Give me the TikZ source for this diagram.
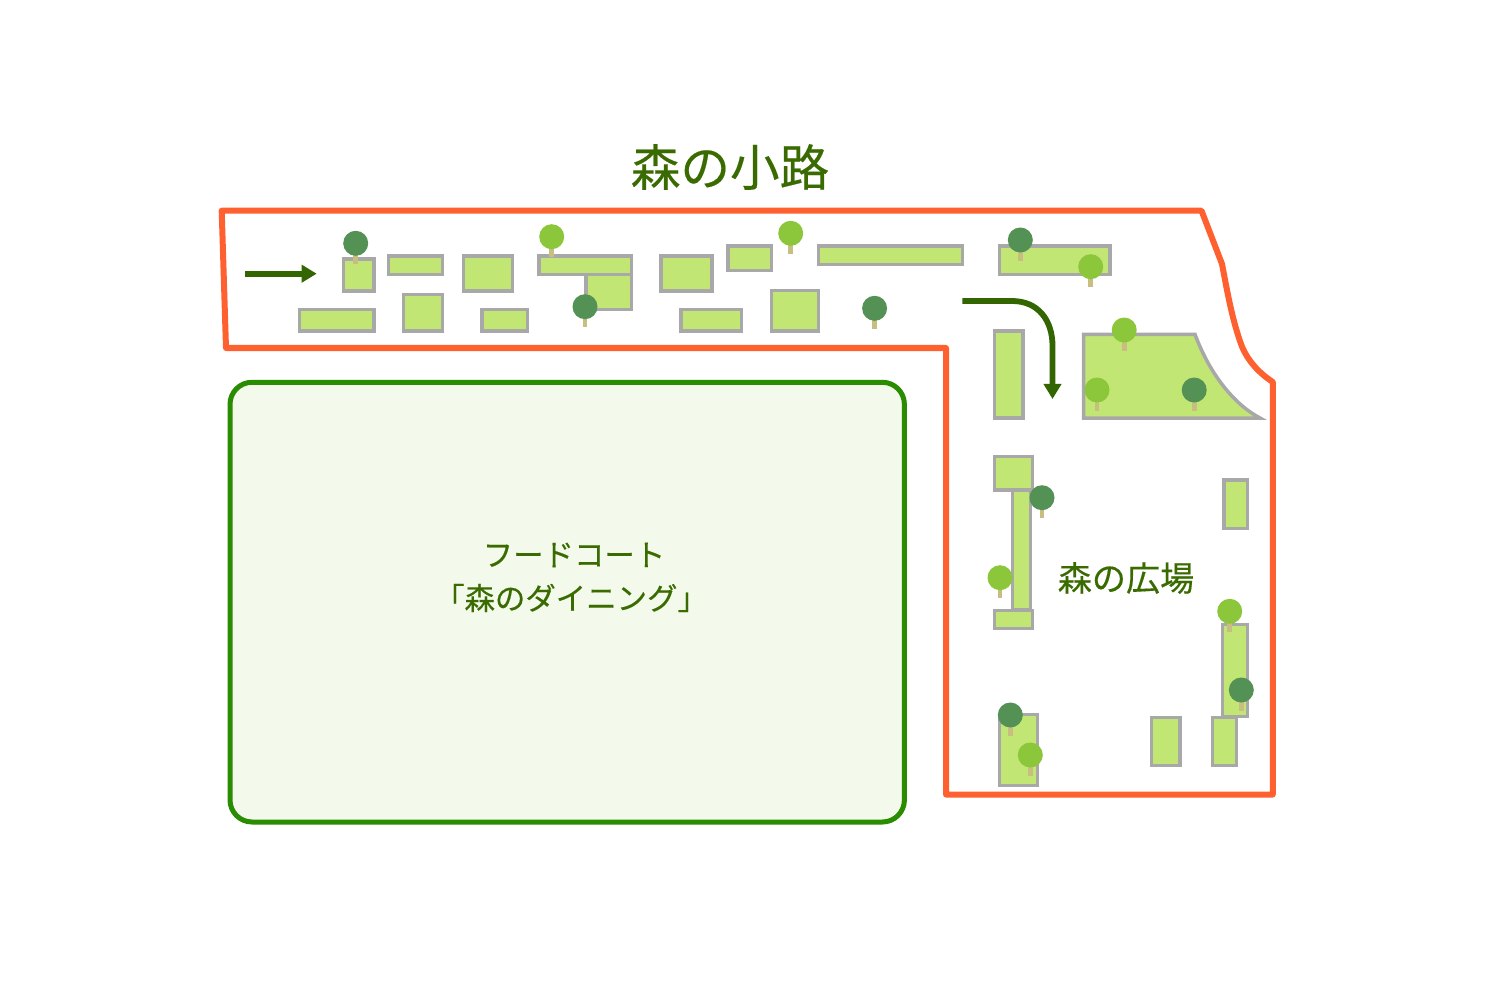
\documentclass[tikz,border=0pt]{standalone}
\usepackage{fontspec}
\setmainfont[RawFeature={embolden=0.35}]{Noto Sans CJK JP}
\usetikzlibrary{arrows.meta}
\definecolor{zoneline}{HTML}{FF6030}
\definecolor{courtline}{HTML}{2A8C00}
\definecolor{courtfill}{HTML}{F4FAEB}
\definecolor{bedfill}{HTML}{C2E673}
\definecolor{bedline}{HTML}{A8A8A8}
\definecolor{treedark}{HTML}{549155}
\definecolor{treelight}{HTML}{8CC63A}
\definecolor{trunk}{HTML}{C8BE82}
\definecolor{labelgreen}{HTML}{3A6B00}
\definecolor{arrowgreen}{HTML}{336600}
\tikzset{
  bed/.style={draw=bedline,fill=bedfill,line width=0.035cm},
  walkarrow/.style={draw=arrowgreen,line width=0.058cm,-{Triangle[length=0.15cm,width=0.17cm]}},
  labeltext/.style={text=labelgreen,inner sep=0pt},
}
\begin{document}
\begin{tikzpicture}[x=0.01cm,y=-0.01cm]
  \useasboundingbox (0,0) rectangle (1500,982);

  % Outline of the walk
  \draw[zoneline,line width=0.06cm,line join=round] (221.7,210.7) -- (1201.5,210.7) -- (1222,264)
    .. controls (1227,290) and (1232,320) .. (1242,346.7)
    .. controls (1248,361) and (1259,373) .. (1272.8,382)
    -- (1272.8,794.5) -- (946,794.5) -- (946,348) -- (226,348) -- cycle;

  % Food court
  \draw[courtline,fill=courtfill,line width=0.05cm,rounded corners=0.22cm] (230,382.3) rectangle (904.4,822);

  % Beds
  \foreach \xa/\ya/\xb/\yb in {
    343.3/259/374/291, 388.3/256/442.3/274.3, 463.3/256/512.7/291,
    586/274.3/631.7/309.3, 539/256/631.7/274.3, 661/256/712/291,
    299.3/309.3/374/331, 403.3/294.3/442.3/331, 482/309.3/527.7/331,
    681/309.3/741.4/331, 728/246/771.5/270.7, 818.5/246/962.7/264.3,
    999.6/246/1110/274.3, 771.5/290.7/818.5/331, 994.7/331/1023/418,
    1012.7/490/1030.7/610, 994.3/456.7/1032.7/490, 994.3/610.7/1032.7/628.7,
    1224/480/1247.3/528.3, 1222.3/624.3/1247.3/716.7, 1212.3/717.7/1236.7/765.7,
    1151.7/717.7/1180/765.7, 999.3/714.3/1037.7/785.7}
    \draw[bed] (\xa,\ya) rectangle (\xb,\yb);

  % Bed with the curved side
  \draw[bed] (1083.5,334.3) -- (1195,334.3) .. controls (1210,375) and (1235,405) .. (1260,418)
    -- (1083.5,418) -- cycle;

  % Trees
  \foreach \tx/\ty in {355.7/243.3, 585/306.7, 1020.3/240, 874.6/308.3, 1194.2/390,
    1042/497.7, 1241.3/690, 1010.3/715} {
    \fill[trunk] (\tx-2.3,\ty) rectangle (\tx+2.3,\ty+20.7);
    \fill[treedark] (\tx,\ty) circle (12.5);
  }
  \foreach \tx/\ty in {551.7/236.7, 790.7/233.3, 1090.7/266.7, 1124.2/330, 1097/390,
    1000/577.7, 1229.7/611.3, 1030.3/755} {
    \fill[trunk] (\tx-2.3,\ty) rectangle (\tx+2.3,\ty+20.7);
    \fill[treelight] (\tx,\ty) circle (12.5);
  }

  % Arrows
  \coordinate (walkstart) at (245,273.7);
  \coordinate (walkend) at (316.7,273.7);
  \draw[walkarrow] (walkstart) -- (walkend);
  \coordinate (turnstart) at (962.3,301);
  \coordinate (turnend) at (1052.5,399);
  \draw[walkarrow] (turnstart) -- (1012,301) .. controls (1038,301) and (1052.5,320) .. (1052.5,346) -- (turnend);

  % Labels
  \node[labeltext,font=\fontsize{14.1}{16}\selectfont] (walktitle) at (730,167) {森の小路};
  \node[labeltext,font=\fontsize{9.7}{12}\selectfont] (plazatitle) at (1126,578) {森の広場};
  \node[labeltext,font=\fontsize{8.65}{10}\selectfont] (courtname) at (574,555) {フードコート};
  \node[labeltext,font=\fontsize{8.65}{10}\selectfont] (courtsub) at (571,598) {「森のダイニング」};
\end{tikzpicture}
\end{document}
